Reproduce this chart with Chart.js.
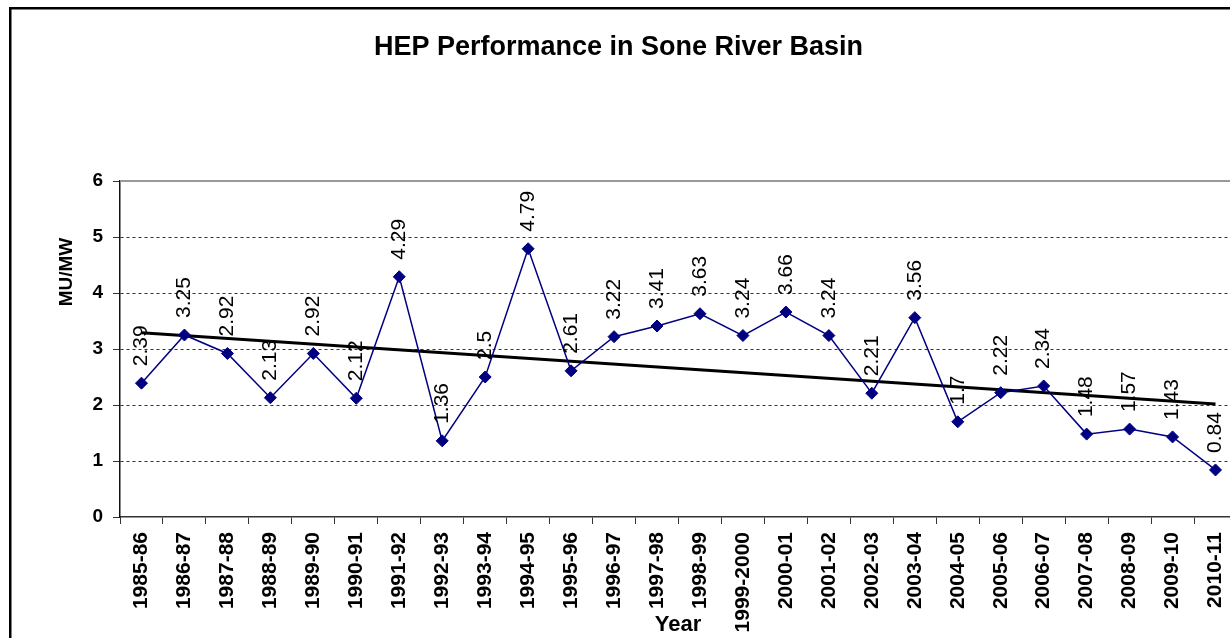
<!DOCTYPE html>
<html>
<head>
<meta charset="utf-8">
<script src="https://cdn.jsdelivr.net/npm/chart.js@4"></script>
<style>
  html, body { margin: 0; padding: 0; background: #fff; overflow: hidden; }
  #wrap { position: absolute; left: 0; top: 0; width: 1250px; height: 638px; }
</style>
</head>
<body>
<div id="wrap"><canvas id="hepChart" width="1250" height="638"></canvas></div>
<script>
const years = ['1985-86', '1986-87', '1987-88', '1988-89', '1989-90', '1990-91', '1991-92', '1992-93',
    '1993-94', '1994-95', '1995-96', '1996-97', '1997-98', '1998-99', '1999-2000', '2000-01', '2001-02',
    '2002-03', '2003-04', '2004-05', '2005-06', '2006-07', '2007-08', '2008-09', '2009-10', '2010-11'];
const muPerMw = [2.39, 3.25, 2.92, 2.13, 2.92, 2.12, 4.29, 1.36, 2.5, 4.79, 2.61, 3.22, 3.41, 3.63, 3.24,
    3.66, 3.24, 2.21, 3.56, 1.7, 2.22, 2.34, 1.48, 1.57, 1.43, 0.84];
// linear trendline ends
const trendEnds = [3.29, 2.02];
const yTicks = [0, 1, 2, 3, 4, 5, 6];

const trend = years.map((y, i) => i === 0 ? trendEnds[0] : (i === years.length - 1 ? trendEnds[1] : null));

const FONT = '"Liberation Sans", Arial, sans-serif';

const extras = {
    id: 'extras',
    beforeDraw(chart) {
        const ctx = chart.ctx;
        ctx.save();
        ctx.fillStyle = '#fff';
        ctx.fillRect(0, 0, chart.width, chart.height);
        ctx.strokeStyle = '#000';
        ctx.lineWidth = 2.5;
        ctx.strokeRect(10.25, 8.25, 2000, 1000);
        ctx.restore();
    },
    beforeDatasetsDraw(chart) {
        const ctx = chart.ctx;
        const a = chart.chartArea;
        ctx.save();
        ctx.strokeStyle = '#999';
        ctx.lineWidth = 2;
        ctx.beginPath();
        ctx.moveTo(a.left, a.top);
        ctx.lineTo(a.right, a.top);
        ctx.lineTo(a.right, a.bottom);
        ctx.stroke();
        ctx.restore();
    },
    afterDatasetsDraw(chart) {
        const ctx = chart.ctx;
        const meta = chart.getDatasetMeta(0);
        ctx.save();
        ctx.fillStyle = '#000';
        ctx.font = '21px ' + FONT;
        ctx.textAlign = 'left';
        ctx.textBaseline = 'middle';
        meta.data.forEach((pt, i) => {
            ctx.save();
            ctx.translate(pt.x, pt.y - 17);
            ctx.rotate(-Math.PI / 2);
            ctx.fillText(String(muPerMw[i]), 0, 0);
            ctx.restore();
        });
        // axis titles
        ctx.font = 'bold 19px ' + FONT;
        ctx.textAlign = 'center';
        ctx.save();
        ctx.translate(67, 272);
        ctx.rotate(-Math.PI / 2);
        ctx.fillText('MU/MW', 0, 0);
        ctx.restore();
        ctx.font = 'bold 22px ' + FONT;
        ctx.textBaseline = 'alphabetic';
        ctx.fillText('Year', 678, 631);
        ctx.restore();
    }
};

new Chart(document.getElementById('hepChart'), {
    type: 'line',
    data: {
        labels: years,
        datasets: [{
            label: 'MU/MW',
            data: muPerMw,
            borderColor: '#000080',
            backgroundColor: '#000080',
            borderWidth: 1.5,
            pointStyle: 'rectRot',
            pointRadius: 6,
            pointBorderWidth: 1,
            tension: 0,
            order: 1
        }, {
            label: 'Trend',
            data: trend,
            borderColor: '#000',
            borderWidth: 3,
            pointRadius: 0,
            spanGaps: true,
            order: 2
        }]
    },
    options: {
        responsive: false,
        animation: false,
        layout: { padding: { left: 0, right: 13, top: 0, bottom: 0 } },
        plugins: {
            legend: { display: false },
            tooltip: { enabled: false },
            title: {
                display: true,
                text: 'HEP Performance in Sone River Basin',
                color: '#000',
                font: { family: FONT, size: 27, weight: 'bold', lineHeight: 1.2 },
                padding: { top: 31, bottom: 117.6 }
            }
        },
        scales: {
            x: {
                offset: true,
                grid: {
                    offset: true,
                    drawOnChartArea: false,
                    tickLength: 7,
                    tickColor: '#333',
                    tickBorderDash: []
                },
                border: { color: '#333', width: 1.5 },
                ticks: {
                    color: '#000',
                    font: { family: FONT, size: 21, weight: 'bold' },
                    minRotation: 90,
                    maxRotation: 90,
                    autoSkip: false,
                    padding: 8
                },
                afterFit(scale) { scale.height = 121; }
            },
            y: {
                min: 0,
                max: 6,
                afterBuildTicks(scale) { scale.ticks = yTicks.map(v => ({ value: v })); },
                grid: {
                    color: c => (c.tick.value === 0 || c.tick.value === 6) ? 'rgba(0,0,0,0)' : '#333',
                    lineWidth: 1,
                    tickLength: 7,
                    tickColor: '#333',
                    tickBorderDash: []
                },
                border: { color: '#111', width: 1.5, dash: [3, 3] },
                ticks: {
                    color: '#000',
                    font: { family: FONT, size: 19, weight: 'bold' },
                    padding: 10
                },
                afterFit(scale) { scale.width = 120; }
            }
        }
    },
    plugins: [extras]
});
</script>
</body>
</html>
